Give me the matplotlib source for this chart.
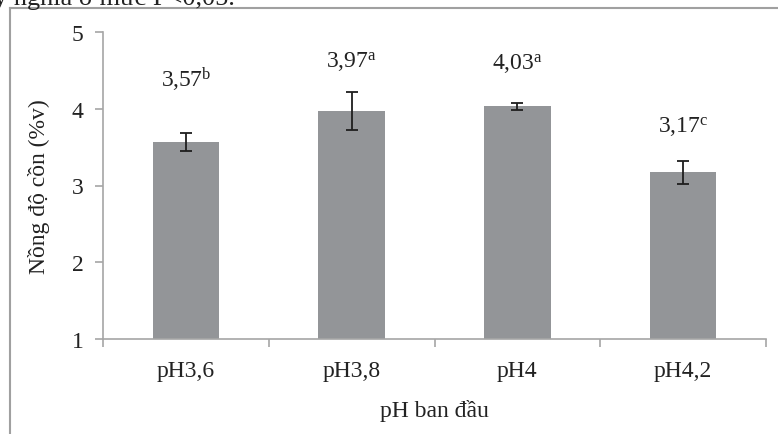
import matplotlib
matplotlib.use("Agg")
import matplotlib.pyplot as plt
from matplotlib.lines import Line2D

plt.rcParams['font.family'] = ['Liberation Serif', 'DejaVu Serif']
plt.rcParams['mathtext.fontset'] = 'custom'
plt.rcParams['mathtext.rm'] = 'Liberation Serif'
plt.rcParams['mathtext.it'] = 'Liberation Serif:italic'

# Data
categories = ['pH3,6', 'pH3,8', 'pH4', 'pH4,2']
values = [3.57, 3.97, 4.03, 3.17]
errors = [0.12, 0.25, 0.05, 0.15]
letters = ['b', 'a', 'a', 'c']
label_y = [4.39, 4.62, 4.59, 3.78]
yticks = [1, 2, 3, 4, 5]

W, H = 778, 435
fig = plt.figure(figsize=(W / 100, H / 100), dpi=100)
ax = fig.add_axes([103 / W, 1 - 340 / H, (766 - 103) / W, (340 - 33) / H])

x = list(range(len(categories)))
ax.bar(x, [v - 1 for v in values], bottom=1, width=0.4, color='#939598', zorder=2)
ax.errorbar(x, values, yerr=errors, fmt='none', ecolor='#1e1e1e',
            elinewidth=1.3, capsize=4, capthick=1.3, zorder=3)

for xi, v, l, ly in zip(x, values, letters, label_y):
    txt = f"{v:.2f}".replace('.', ',')
    ax.text(xi, ly, txt + r"$^{\mathrm{" + l + "}}$", ha='center', va='center',
            fontsize=17, color='#222222')

ax.set_ylim(1, 5)
ax.set_xlim(-0.5, len(categories) - 0.5)
ax.set_yticks(yticks)
ax.set_yticklabels([str(t) for t in yticks], fontsize=17, color='#222222')
ax.set_xticks(x)
ax.set_xticklabels(categories, fontsize=17, color='#222222')
ax.tick_params(axis='x', which='major', length=0, pad=15)
ax.set_xticks([i - 0.5 for i in range(len(categories) + 1)], minor=True)
ax.tick_params(axis='x', which='minor', length=6, color='#a6a6a6', width=1.2)
ax.tick_params(axis='y', length=6, color='#a6a6a6', width=1.2, pad=8)

for s in ['top', 'right']:
    ax.spines[s].set_visible(False)
for s in ['left', 'bottom']:
    ax.spines[s].set_color('#a6a6a6')
    ax.spines[s].set_linewidth(1.2)

ax.set_ylabel('Nồng độ cồn (%v)', fontsize=17, color='#222222')
ax.yaxis.set_label_coords((50 - 103) / (766 - 103), 0.5)
ax.set_xlabel('pH ban đầu', fontsize=17, color='#222222', labelpad=13)

# Surrounding frame and the tail of the preceding caption line
fig.add_artist(Line2D([10 / W, 10 / W], [0, 1 - 9 / H], color='#a0a0a0', lw=1.5,
                      transform=fig.transFigure))
fig.add_artist(Line2D([10 / W, 1], [1 - 9 / H, 1 - 9 / H], color='#a0a0a0', lw=1.5,
                      transform=fig.transFigure))
fig.text(-6 / W, 1 - 5 / H, 'ý nghĩa ở mức P<0,05.', fontsize=19, color='#222222',
         va='baseline', ha='left')

fig.savefig('out.png', dpi=100)
